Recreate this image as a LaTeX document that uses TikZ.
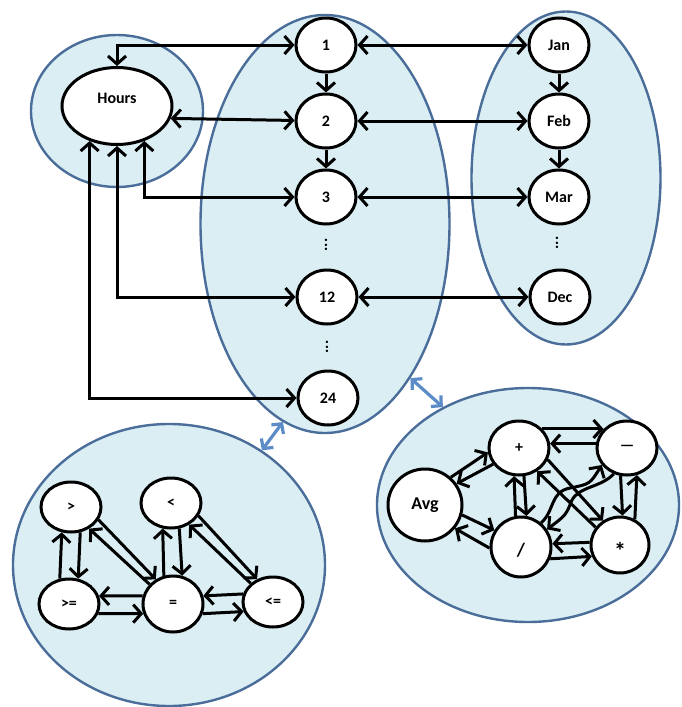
\documentclass[tikz,border=0pt]{standalone}
\usepackage{fontspec}
\setmainfont{Carlito}
\usepackage{xcolor}
\usepackage{graphicx}
\usetikzlibrary{arrows.meta,shapes,positioning}

\definecolor{grpfill}{HTML}{DAEEF3}
\definecolor{grpline}{HTML}{4A6D9A}
\definecolor{relblue}{HTML}{5B8CC8}

\begin{document}
\begin{tikzpicture}[x=1pt,y=-1pt]
        \tikzstyle{main}=[ellipse, minimum width=60pt, minimum height=54pt, inner sep=0pt, line width=3pt, draw=black, fill=white, node distance=19pt]
        \tikzstyle{group}=[ellipse, inner sep=0pt, line width=2.4pt, draw=grpline, fill=grpfill]
        \tikzstyle{dots}=[inner sep=0pt, font=\bfseries\fontsize{16}{16}\selectfont]
        \tikzstyle{connect}=[-{Straight Barb[length=8pt,width=18pt]}, line width=3pt]
        \tikzstyle{both}=[{Straight Barb[length=8pt,width=18pt]}-{Straight Barb[length=8pt,width=18pt]}, line width=3pt]
        \tikzstyle{relate}=[{Straight Barb[length=7pt,width=15pt]}-{Straight Barb[length=7pt,width=15pt]}, line width=3.2pt, draw=relblue]
        \tikzset{every label/.style={font=\fontsize{16}{18}\selectfont\bfseries}}
        \useasboundingbox (0,0) rectangle (681,707);
        % groups
        \node[group, minimum width=172pt, minimum height=152pt] (hourgrp) at (117,111) {};
        \node[group, minimum width=249pt, minimum height=418pt] (numgrp) at (325,224) {};
        \node[group, minimum width=189pt, minimum height=333pt] (mongrp) at (566,178) {};
        \node[group, minimum width=312pt, minimum height=282pt] (cmpgrp) at (169,565) {};
        \node[group, minimum width=302pt, minimum height=234pt] (opgrp) at (528,505) {};
        \path (numgrp.-61) edge [relate] (opgrp.131)
        (cmpgrp.51) edge [relate] (numgrp.-102);
        % hours, numbers, months
        \node[main, minimum width=110pt, minimum height=77pt] (hours) at (117,106) [label={[yshift=8pt]center:Hours}] {};
        \node[main] (n1) at (326,45) [label=center:1] {};
        \node[main] (n2) [below=of n1,label=center:2] {};
        \node[main] (n3) [below=of n2,label=center:3] {};
        \node[dots] (d1) at (326,245) {\rotatebox{90}{...}};
        \node[main] (n12) at (327,297) [label=center:12] {};
        \node[dots] (d2) at (327,347) {\rotatebox{90}{...}};
        \node[main] (n24) at (328,398) [label=center:24] {};
        \node[main] (jan) [right=170pt of n1,label=center:Jan] {};
        \node[main] (feb) [right=170pt of n2,label=center:Feb] {};
        \node[main] (mar) [right=170pt of n3,label=center:Mar] {};
        \node[dots] (d3) at (557,243) {\rotatebox{90}{...}};
        \node[main] (dec) [right=170pt of n12,label=center:Dec] {};
        \draw[both] (hours.north) |- (n1);
        \draw[both] (hours.-52) |- (n3);
        \draw[both] (hours.south) |- (n12);
        \draw[both] (hours.-128) |- (n24);
        \path (hours.-13) edge [both] (n2)
        (n1) edge [connect] (n2)
        (n2) edge [connect] (n3)
        (jan) edge [connect] (feb)
        (feb) edge [connect] (mar)
        (n1) edge [both] (jan)
        (n2) edge [both] (feb)
        (n3) edge [both] (mar)
        (n12) edge [both] (dec);
        % comparisons
        \node[main, minimum height=50pt] (gt) at (71,507) [label=center:{>}] {};
        \node[main, minimum height=50pt] (lt) at (171,503) [label=center:{<}] {};
        \node[main, minimum height=50pt] (ge) at (69,604) [label=center:{>=}] {};
        \node[main, minimum height=56pt] (eq) at (173,604) [label=center:{=}] {};
        \node[main, minimum height=50pt] (le) at (273,602) [label=center:{<=}] {};
        \path (ge.110) edge [connect] (gt.-110)
        (gt.-70) edge [connect] (ge.70)
        (eq.108) edge [connect] (lt.-108)
        (lt.-72) edge [connect] (eq.72)
        (gt.-25) edge [connect] (eq.125)
        (eq.140) edge [connect] (gt.-50)
        (lt.-25) edge [connect] (le.125)
        (le.140) edge [connect] (lt.-50)
        (eq.165) edge [connect] (ge.15)
        (ge.-18) edge [connect] (eq.-162)
        (le.165) edge [connect] (eq.15)
        (eq.-18) edge [connect] (le.-162);
        % operators
        \node[main] (plus) at (519,448) [label=center:+] {};
        \node[main] (minus) at (627,448) [label=center:---] {};
        \node[main, minimum width=74pt, minimum height=72pt] (avg) at (425,505) [label={[font=\fontsize{18}{20}\selectfont\bfseries]center:Avg}] {};
        \node[main, minimum height=60pt] (div) at (521,547) [label={[yshift=-3pt,font=\fontsize{19}{21}\selectfont\bfseries]center:/}] {};
        \node[main, minimum width=58pt, minimum height=56pt] (times) at (620,545) [label={[yshift=-6pt,font=\fontsize{24}{26}\selectfont\bfseries]center:*}] {};
        \path (plus.39) edge [connect] (minus.141)
        (minus.172) edge [connect] (plus.8)
        (avg.47) edge [connect] (plus.188)
        (plus.212) edge [connect] (avg.34)
        (avg.-15) edge [connect] (div.148)
        (div.182) edge [connect] (avg.-38)
        (div.100) edge [connect] (plus.-100)
        (plus.-80) edge [connect] (div.80)
        (minus.-103) edge [connect] (times.85)
        (times.60) edge [connect] (minus.-70)
        (times.175) edge [connect] (div.6)
        (div.-22) edge [connect] (times.-158)
        (plus.-22) edge [connect] (times.125)
        (times.144) edge [connect] (plus.-52);
        \draw[connect] (div.50) .. controls (555,510) and (550,492) .. (570,488) .. controls (590,484) .. (minus.-146);
        \draw[connect] (minus.-117) .. controls (600,488) and (580,486) .. (572,500) .. controls (566,515) .. (div.34);
\end{tikzpicture}
\end{document}
